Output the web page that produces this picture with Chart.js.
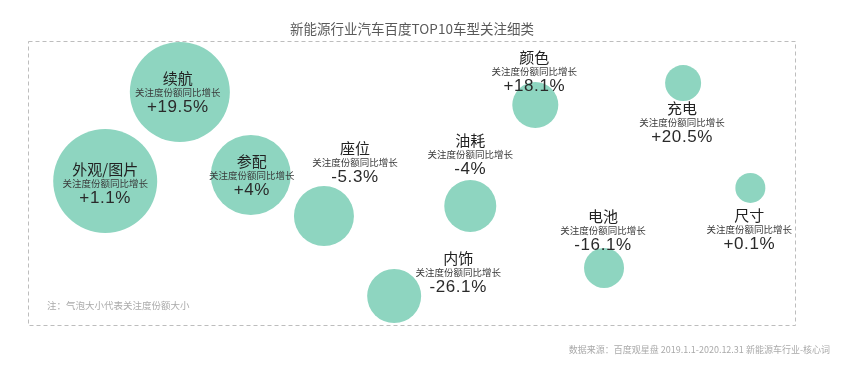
<!DOCTYPE html>
<html>
<head>
<meta charset="utf-8">
<script src="https://cdn.jsdelivr.net/npm/chart.js@4.4.1/dist/chart.umd.min.js"></script>
<style>
  html, body { margin: 0; padding: 0; background: #fff; }
  #wrap { width: 843px; height: 369px; position: relative; }
</style>
</head>
<body>
<div id="wrap"><canvas id="bubbleChart"></canvas></div>
<script>
// categories and values
const categories = ["外观/图片", "续航", "参配", "座位", "油耗", "内饰", "颜色", "充电", "尺寸", "电池"];
const growth     = ["+1.1%", "+19.5%", "+4%", "-5.3%", "-4%", "-26.1%", "+18.1%", "+20.5%", "+0.1%", "-16.1%"];
// bubble position (0-100 layout units) and bubble size (attention share, as radius)
const posX       = [7.2, 17.3, 26.9, 36.8, 56.6, 46.3, 65.4, 85.4, 94.5, 74.7];
const posY       = [51.3, 84.9, 53.6, 38.1, 41.9, 7.9, 80.0, 88.3, 48.7, 18.5];
const shareSize  = [52, 50, 40, 30, 26, 27, 23, 18, 15, 20];

const subLabel = "关注度份额同比增长";
const chartTitle = "新能源行业汽车百度TOP10车型关注细类";
const noteText = "注：气泡大小代表关注度份额大小";
const sourceText = "数据来源：百度观星盘 2019.1.1-2020.12.31 新能源车行业-核心词";

// label offsets from bubble centre (px)
const labelDx = [0, -2, 1, 31, 0, 64, -1, -1, -1, -1];
const labelDy = [2, 0, 0, -54, -52, -24, -34, 39, 41, -38];

const FONT = '"Noto Sans CJK SC", "Noto Sans", sans-serif';
const NUM_FONT = '"Liberation Sans", Arial, sans-serif';

const decorPlugin = {
  id: "decor",
  beforeDatasetsDraw(chart) {
    const ctx = chart.ctx;
    ctx.save();
    // dashed frame
    ctx.strokeStyle = "#bdbdbd";
    ctx.lineWidth = 1;
    ctx.setLineDash([4, 3]);
    ctx.strokeRect(28.5, 41.5, 767, 284);
    ctx.setLineDash([]);
    // title
    ctx.fillStyle = "#595959";
    ctx.textAlign = "center";
    ctx.textBaseline = "middle";
    ctx.font = "13.5px " + FONT;
    ctx.fillText(chartTitle, 412, 29);
    // note and source
    ctx.fillStyle = "#aaaaaa";
    ctx.font = "9.5px " + FONT;
    ctx.textAlign = "left";
    ctx.fillText(noteText, 47, 305);
    ctx.font = "9px " + FONT;
    ctx.textAlign = "right";
    ctx.fillText(sourceText, 830, 350);
    ctx.restore();
  },
  afterDatasetsDraw(chart) {
    const ctx = chart.ctx;
    const xs = chart.scales.x, ys = chart.scales.y;
    ctx.save();
    ctx.textAlign = "center";
    ctx.textBaseline = "middle";
    categories.forEach((name, i) => {
      const cx = xs.getPixelForValue(posX[i]) + labelDx[i];
      const cy = ys.getPixelForValue(posY[i]) + labelDy[i];
      ctx.letterSpacing = "0px";
      ctx.fillStyle = "#222";
      ctx.font = "15px " + FONT;
      ctx.fillText(name, cx, cy - 14);
      ctx.fillStyle = "#3a3a3a";
      ctx.font = "9.5px " + FONT;
      ctx.fillText(subLabel, cx, cy);
      ctx.fillStyle = "#2a2a2a";
      ctx.letterSpacing = "0.6px";
      ctx.font = "17px " + NUM_FONT;
      ctx.fillText(growth[i], cx, cy + 15);
    });
    ctx.restore();
  }
};

new Chart(document.getElementById("bubbleChart"), {
  type: "bubble",
  data: {
    datasets: [{
      data: categories.map((c, i) => ({ x: posX[i], y: posY[i], r: shareSize[i] })),
      backgroundColor: "#8ed5c0",
      borderColor: "#8ed5c0",
      borderWidth: 0,
      hoverRadius: 0,
      clip: false
    }]
  },
  options: {
    responsive: true,
    maintainAspectRatio: false,
    animation: false,
    events: [],
    layout: { padding: 0 },
    scales: {
      x: { type: "linear", min: 0, max: 100, display: false },
      y: { type: "linear", min: 0, max: 100, display: false }
    },
    plugins: {
      legend: { display: false },
      tooltip: { enabled: false }
    }
  },
  plugins: [decorPlugin]
});
</script>
</body>
</html>
